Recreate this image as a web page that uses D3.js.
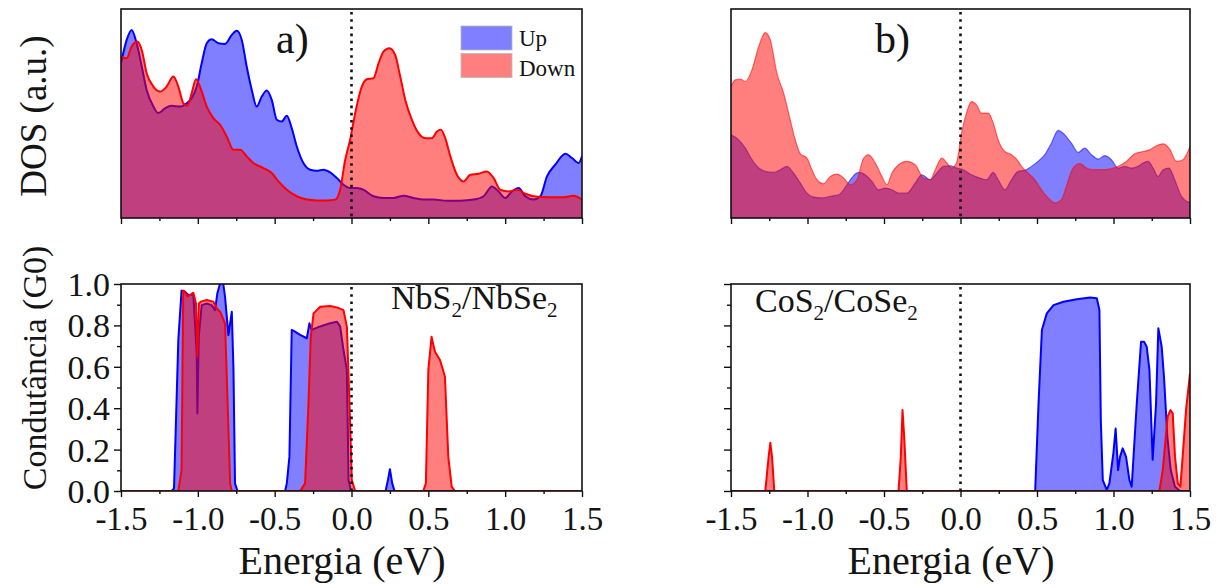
<!DOCTYPE html>
<html>
<head>
<meta charset="utf-8">
<script src="https://cdn.jsdelivr.net/npm/d3@7"></script>
<style>
  body { margin: 0; background: #fff; }
  svg { display: block; }
  text { font-family: "Liberation Serif", "Times New Roman", serif; fill: #141414; }
</style>
</head>
<body>
<svg id="chart" width="1223" height="588"></svg>
<script>
// ---- axis ticks and labels ----
const energyTicks = [-1.5, -1.0, -0.5, 0.0, 0.5, 1.0, 1.5];
const energyMinorTicks = [-1.25, -0.75, -0.25, 0.25, 0.75, 1.25];
const condTicks = [0.0, 0.2, 0.4, 0.6, 0.8, 1.0];
const condMinorTicks = [0.1, 0.3, 0.5, 0.7, 0.9];
const spinLabels = ["Up", "Down"];
const panelTags = ["a)", "b)"];

// ---- density of states, panel a (NbS2/NbSe2): [energy (eV), DOS (a.u.)] ----
const dosA_up = [
  [-1.500, 74.0], [-1.463, 85.2], [-1.431, 90.0], [-1.398, 83.6], [-1.365, 72.5], [-1.333, 61.3],
  [-1.289, 53.3], [-1.257, 50.2], [-1.213, 52.5], [-1.170, 53.7], [-1.116, 53.3], [-1.072, 54.9],
  [-1.040, 57.3], [-1.007, 62.9], [-0.975, 74.0], [-0.942, 83.6], [-0.910, 85.5], [-0.866, 83.6],
  [-0.823, 83.3], [-0.779, 87.6], [-0.747, 89.6], [-0.714, 85.2], [-0.682, 72.5], [-0.649, 61.3],
  [-0.617, 53.3], [-0.584, 58.1], [-0.551, 61.0], [-0.519, 56.5], [-0.486, 47.0], [-0.454, 46.2],
  [-0.421, 48.9], [-0.389, 43.0], [-0.356, 34.2], [-0.313, 26.3], [-0.269, 23.1], [-0.226, 22.6],
  [-0.182, 23.1], [-0.139, 21.8], [-0.095, 19.1], [-0.052, 15.9], [-0.009, 14.3], [0.035, 14.3],
  [0.078, 13.5], [0.143, 10.4], [0.208, 9.6], [0.274, 9.6], [0.339, 10.7], [0.404, 9.6],
  [0.469, 8.8], [0.534, 8.8], [0.621, 8.3], [0.708, 8.3], [0.795, 8.8], [0.860, 10.4],
  [0.914, 15.1], [0.957, 12.7], [1.001, 9.6], [1.044, 12.7], [1.088, 14.3], [1.131, 10.4],
  [1.185, 8.8], [1.229, 10.4], [1.272, 19.9], [1.326, 25.5], [1.392, 30.7], [1.435, 28.7],
  [1.478, 26.3], [1.500, 29.5]
];
const dosA_down = [
  [-1.500, 77.2], [-1.463, 76.4], [-1.431, 82.0], [-1.394, 84.4], [-1.365, 80.4], [-1.333, 69.3],
  [-1.289, 62.9], [-1.246, 60.5], [-1.203, 62.9], [-1.159, 67.7], [-1.127, 62.9], [-1.094, 54.9],
  [-1.068, 53.7], [-1.040, 59.7], [-1.012, 66.4], [-0.986, 62.9], [-0.942, 53.3], [-0.899, 47.8],
  [-0.855, 44.6], [-0.812, 39.0], [-0.768, 32.6], [-0.725, 32.6], [-0.682, 29.5], [-0.638, 26.3],
  [-0.573, 23.9], [-0.519, 21.5], [-0.475, 17.5], [-0.421, 13.5], [-0.356, 10.4], [-0.291, 8.8],
  [-0.226, 8.4], [-0.161, 8.4], [-0.106, 8.8], [-0.074, 13.5], [-0.041, 27.9], [-0.009, 37.4],
  [0.024, 50.2], [0.067, 62.9], [0.100, 66.4], [0.143, 66.9], [0.176, 74.0], [0.208, 79.6],
  [0.247, 81.2], [0.284, 78.0], [0.317, 67.7], [0.350, 56.5], [0.393, 47.0], [0.436, 40.6],
  [0.480, 38.2], [0.523, 38.2], [0.556, 41.4], [0.582, 42.2], [0.610, 38.2], [0.643, 29.5],
  [0.686, 20.7], [0.729, 17.5], [0.773, 20.7], [0.827, 21.2], [0.881, 22.3], [0.925, 19.1],
  [0.968, 13.5], [1.023, 12.7], [1.077, 13.5], [1.131, 11.6], [1.185, 10.4], [1.250, 10.0],
  [1.316, 9.9], [1.381, 9.9], [1.446, 10.7], [1.500, 8.8]
];

// ---- density of states, panel b (CoS2/CoSe2) ----
const dosB_up = [
  [-1.500, 39.8], [-1.450, 37.4], [-1.406, 33.4], [-1.363, 27.9], [-1.319, 23.9], [-1.276, 22.3],
  [-1.221, 21.8], [-1.178, 23.1], [-1.134, 24.7], [-1.091, 21.5], [-1.047, 16.7], [-1.004, 11.9],
  [-0.960, 10.0], [-0.906, 9.6], [-0.851, 10.4], [-0.797, 11.1], [-0.742, 15.9], [-0.720, 18.3],
  [-0.666, 21.8], [-0.623, 20.7], [-0.579, 17.5], [-0.536, 13.5], [-0.492, 14.3], [-0.448, 13.5],
  [-0.405, 11.9], [-0.351, 11.9], [-0.296, 16.7], [-0.253, 20.7], [-0.198, 18.3], [-0.155, 21.5],
  [-0.111, 24.7], [-0.068, 25.0], [-0.026, 23.9], [0.017, 23.1], [0.072, 20.7], [0.126, 19.1],
  [0.170, 18.3], [0.214, 21.8], [0.246, 18.3], [0.290, 13.5], [0.333, 18.3], [0.377, 22.3],
  [0.420, 22.8], [0.464, 24.7], [0.507, 27.1], [0.551, 30.3], [0.594, 35.8], [0.638, 41.9],
  [0.681, 39.8], [0.725, 35.8], [0.769, 31.4], [0.812, 33.4], [0.856, 30.3], [0.899, 28.2],
  [0.943, 29.8], [0.986, 27.9], [1.030, 23.9], [1.073, 24.7], [1.117, 23.9], [1.160, 24.7],
  [1.193, 26.3], [1.226, 27.1], [1.259, 23.9], [1.291, 19.9], [1.324, 23.1], [1.363, 23.9],
  [1.400, 18.3], [1.444, 10.4], [1.500, 7.2]
];
const dosB_down = [
  [-1.500, 62.9], [-1.472, 66.1], [-1.439, 66.4], [-1.406, 65.3], [-1.363, 70.9], [-1.319, 82.0],
  [-1.276, 88.7], [-1.243, 85.2], [-1.200, 69.3], [-1.156, 59.7], [-1.113, 47.0], [-1.080, 37.4],
  [-1.047, 30.7], [-1.004, 28.7], [-0.971, 23.1], [-0.938, 18.3], [-0.894, 16.4], [-0.851, 19.9],
  [-0.807, 21.0], [-0.764, 19.1], [-0.720, 15.9], [-0.677, 18.3], [-0.633, 28.7], [-0.601, 30.3],
  [-0.557, 26.3], [-0.514, 19.9], [-0.481, 15.9], [-0.448, 21.5], [-0.405, 25.5], [-0.351, 27.1],
  [-0.296, 25.5], [-0.242, 19.1], [-0.198, 18.3], [-0.165, 23.1], [-0.122, 28.7], [-0.089, 26.3],
  [-0.059, 23.9], [-0.026, 26.3], [0.007, 40.6], [0.039, 50.2], [0.072, 55.7], [0.105, 54.1],
  [0.137, 50.2], [0.181, 50.2], [0.214, 45.4], [0.246, 37.4], [0.290, 31.8], [0.333, 30.3],
  [0.366, 28.2], [0.399, 24.7], [0.442, 21.5], [0.486, 18.3], [0.529, 13.5], [0.573, 9.6],
  [0.616, 7.2], [0.660, 8.8], [0.692, 15.1], [0.736, 23.9], [0.780, 26.0], [0.823, 23.9],
  [0.867, 23.1], [0.921, 23.1], [0.975, 23.4], [1.030, 24.7], [1.084, 27.1], [1.139, 30.7],
  [1.193, 31.8], [1.237, 32.6], [1.280, 34.6], [1.324, 35.5], [1.367, 33.0], [1.411, 27.1],
  [1.454, 27.9], [1.500, 34.2]
];

// ---- conductance, NbS2/NbSe2: [energy (eV), G (G0)] ----
const condA_up = [
  [-1.500, 0], [-1.170, 0], [-1.155, 0.013], [-1.127, 0.73], [-1.106, 0.968], [-1.084, 0.963],
  [-1.062, 0.947], [-1.029, 0.947], [-1.007, 0.665], [-1.003, 0.375], [-0.994, 0.746], [-0.975, 0.898],
  [-0.942, 0.906], [-0.910, 0.898], [-0.888, 0.874], [-0.873, 0.955], [-0.855, 1.003], [-0.838, 1.02],
  [-0.823, 0.939], [-0.801, 0.753], [-0.779, 0.866], [-0.768, 0.584], [-0.758, 0.037], [-0.742, 0],
  [-0.432, 0], [-0.421, 0.037], [-0.404, 0.166], [-0.389, 0.778], [-0.378, 0.775], [-0.334, 0.754],
  [-0.291, 0.738], [-0.274, 0.81], [-0.259, 0.778], [-0.205, 0.795], [-0.139, 0.81], [-0.095, 0.818],
  [-0.074, 0.795], [-0.052, 0.681], [-0.030, 0.584], [-0.019, 0.053], [-0.004, 0],
  [0.222, 0], [0.237, 0.053], [0.250, 0.105], [0.265, 0.037], [0.280, 0], [1.500, 0]
];
const condA_down = [
  [-1.500, 0], [-1.127, 0], [-1.106, 0.101], [-1.095, 0.968], [-1.084, 0.963], [-1.068, 0.939],
  [-1.051, 0.947], [-1.029, 0.958], [-1.012, 0.906], [-1.003, 0.649], [-0.993, 0.906], [-0.980, 0.915],
  [-0.942, 0.923], [-0.899, 0.915], [-0.877, 0.882], [-0.855, 0.866], [-0.823, 0.810], [-0.806, 0.423],
  [-0.790, 0.037], [-0.779, 0],
  [-0.334, 0], [-0.302, 0.037], [-0.280, 0.423], [-0.265, 0.745], [-0.247, 0.858], [-0.204, 0.890],
  [-0.139, 0.894], [-0.095, 0.887], [-0.052, 0.874], [-0.030, 0.794], [-0.013, 0.423], [0.002, 0.053],
  [0.024, 0],
  [0.467, 0], [0.484, 0.037], [0.500, 0.585], [0.521, 0.745], [0.543, 0.673], [0.576, 0.633],
  [0.608, 0.553], [0.630, 0.165], [0.652, 0.021], [0.673, 0], [1.500, 0]
];

// ---- conductance, CoS2/CoSe2 ----
const condB_up = [
  [-1.500, 0], [0.488, 0], [0.510, 0.423], [0.532, 0.778], [0.564, 0.858], [0.608, 0.898],
  [0.673, 0.914], [0.760, 0.926], [0.847, 0.935], [0.891, 0.931], [0.908, 0.874], [0.917, 0.343],
  [0.930, 0.053], [0.956, 0.005], [0.973, 0.037], [0.999, 0.182], [1.014, 0.302], [1.030, 0.101],
  [1.043, 0.166], [1.060, 0.206], [1.082, 0.166], [1.104, 0.053], [1.119, 0.021], [1.152, 0.423],
  [1.180, 0.721], [1.200, 0.721], [1.217, 0.697], [1.235, 0.584], [1.256, 0.151], [1.278, 0.423],
  [1.293, 0.786], [1.315, 0.697], [1.330, 0.552], [1.352, 0.262], [1.374, 0.101], [1.402, 0.021],
  [1.435, 0], [1.500, 0]
];
const condB_down = [
  [-1.500, 0], [-1.276, 0], [-1.254, 0.166], [-1.243, 0.233], [-1.232, 0.166], [-1.217, 0],
  [-0.405, 0], [-0.390, 0.166], [-0.379, 0.391], [-0.368, 0.262], [-0.351, 0],
  [1.300, 0], [1.322, 0.101], [1.354, 0.359], [1.372, 0.391], [1.387, 0.375], [1.402, 0.166],
  [1.420, 0.037], [1.437, 0.021], [1.452, 0.166], [1.474, 0.391], [1.500, 0.568]
];

// ---- styling ----
const upColor = "#0000ff", downColor = "#ff0000";
const upFill = "rgba(0,0,255,0.5)", downFill = "rgba(255,0,0,0.5)";

const svg = d3.select("#chart");
const fmt = d => d.toFixed(1);

function panel(cfg) {
  const { left, top, width, height, yDomain, up, down, curve, lineWidth, lineOpacity,
          yTicks, yLabels, xLabels, id } = cfg;
  const x = d3.scaleLinear().domain([-1.5, 1.5]).range([left, left + width]);
  const y = d3.scaleLinear().domain(yDomain).range([top + height, top]);

  svg.append("clipPath").attr("id", id)
    .append("rect").attr("x", left).attr("y", top).attr("width", width).attr("height", height);

  const g = svg.append("g");
  const plot = g.append("g").attr("clip-path", `url(#${id})`);

  const area = d3.area().x(d => x(d[0])).y0(y(yDomain[0])).y1(d => y(d[1])).curve(curve);
  const line = d3.line().x(d => x(d[0])).y(d => y(d[1])).curve(curve);

  [[up, upFill, upColor], [down, downFill, downColor]].forEach(([data, fill, stroke]) => {
    plot.append("path").datum(data).attr("d", area).attr("fill", fill);
    plot.append("path").datum(data).attr("d", line).attr("fill", "none")
      .attr("stroke", stroke).attr("stroke-width", lineWidth)
      .attr("stroke-opacity", lineOpacity).attr("stroke-linejoin", "round");
  });

  // Fermi level
  g.append("line")
    .attr("x1", x(0)).attr("x2", x(0)).attr("y1", top + 3).attr("y2", top + height)
    .attr("stroke", "#111").attr("stroke-width", 2.6).attr("stroke-dasharray", "2.6,4.6");

  // frame
  g.append("rect").attr("x", left).attr("y", top).attr("width", width).attr("height", height)
    .attr("fill", "none").attr("stroke", "#111").attr("stroke-width", 1.6);

  // x axis
  const xMajor = g.append("g").attr("transform", `translate(0,${top + height})`)
    .call(d3.axisBottom(x).tickValues(energyTicks).tickSize(6).tickFormat(xLabels ? fmt : ""));
  g.append("g").attr("transform", `translate(0,${top + height})`)
    .call(d3.axisBottom(x).tickValues(energyMinorTicks).tickSize(3).tickFormat(""));

  if (xLabels) {
    xMajor.selectAll("text").attr("y", 39).attr("dy", null)
      .style("font-size", "33px").style("font-family", "Liberation Serif").attr("fill", "#141414");
  }

  if (yTicks) {
    const yMajor = g.append("g").attr("transform", `translate(${left},0)`)
      .call(d3.axisLeft(y).tickValues(condTicks).tickSize(7).tickPadding(4)
        .tickFormat(yLabels ? fmt : ""));
    g.append("g").attr("transform", `translate(${left},0)`)
      .call(d3.axisLeft(y).tickValues(condMinorTicks).tickSize(4).tickFormat(""));
    if (yLabels) {
      yMajor.selectAll("text").attr("dy", "0.34em")
        .style("font-size", "34px").style("font-family", "Liberation Serif").attr("fill", "#141414");
    }
  }

  g.selectAll(".domain").remove();
  g.selectAll(".tick line").attr("stroke", "#111").attr("stroke-width", 1.4);
  return { x, y, g };
}

const colA = { left: 121, width: 461 };
const colB = { left: 731, width: 459 };
const rowTop = { top: 9, height: 209 };
const rowBottom = { top: 284, height: 207 };

panel({ ...colA, ...rowTop, id: "clipA1", yDomain: [0, 100], up: dosA_up, down: dosA_down,
  curve: d3.curveMonotoneX, lineWidth: 2, lineOpacity: 1, yTicks: false, xLabels: false });
panel({ ...colB, ...rowTop, id: "clipB1", yDomain: [0, 100], up: dosB_up, down: dosB_down,
  curve: d3.curveMonotoneX, lineWidth: 1.2, lineOpacity: 0.55, yTicks: false, xLabels: false });
panel({ ...colA, ...rowBottom, id: "clipA2", yDomain: [0, 1], up: condA_up, down: condA_down,
  curve: d3.curveLinear, lineWidth: 2, lineOpacity: 1, yTicks: true, yLabels: true, xLabels: true });
panel({ ...colB, ...rowBottom, id: "clipB2", yDomain: [0, 1], up: condB_up, down: condB_down,
  curve: d3.curveLinear, lineWidth: 2, lineOpacity: 1, yTicks: true, yLabels: false, xLabels: true });

// panel tags
svg.append("text").attr("x", 276).attr("y", 53).style("font-size", "42px").text(panelTags[0]);
svg.append("text").attr("x", 875).attr("y", 53).style("font-size", "42px").text(panelTags[1]);

// legend
const legend = svg.append("g");
[[upFill, spinLabels[0]], [downFill, spinLabels[1]]].forEach(([fill, label], i) => {
  legend.append("rect").attr("x", 461).attr("y", 26 + i * 27.5).attr("width", 51).attr("height", 24)
    .attr("fill", fill).attr("stroke", "#b8b8b8").attr("stroke-width", 0.8);
  legend.append("text").attr("x", 519).attr("y", 46 + i * 30).style("font-size", "23px").text(label);
});

// compound labels with subscripts
function compound(xPos, yPos, parts) {
  const t = svg.append("text").attr("x", xPos).attr("y", yPos).style("font-size", "34px");
  parts.forEach(([s, sub]) => {
    if (sub) t.append("tspan").attr("dy", 8).style("font-size", "21px").text(s);
    else t.append("tspan").attr("dy", t.selectAll("tspan").size() ? -8 : 0).text(s);
  });
}
compound(391, 317, [["NbS"], ["2", true], ["/NbSe"], ["2", true]]);
compound(755, 320, [["CoS"], ["2", true], ["/CoSe"], ["2", true]]);

// axis titles
svg.append("text").attr("x", 342).attr("y", 574).attr("text-anchor", "middle")
  .style("font-size", "40px").text("Energia (eV)");
svg.append("text").attr("x", 951).attr("y", 574).attr("text-anchor", "middle")
  .style("font-size", "40px").text("Energia (eV)");
svg.append("text").attr("transform", "translate(46,116) rotate(-90)").attr("text-anchor", "middle")
  .style("font-size", "37px").text("DOS (a.u.)");
svg.append("text").attr("transform", "translate(46,368) rotate(-90)").attr("text-anchor", "middle")
  .style("font-size", "34px").text("Condutância (G0)");
</script>
</body>
</html>
